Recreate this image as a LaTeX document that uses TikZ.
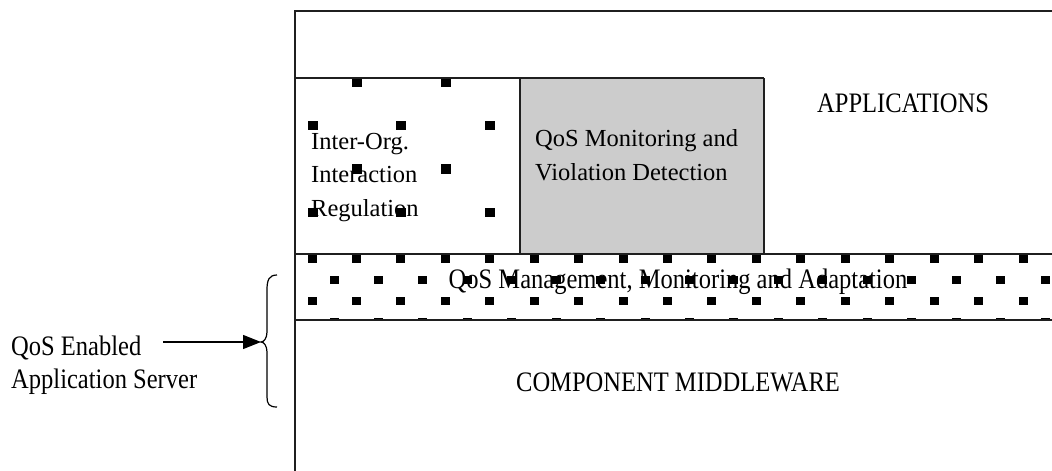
\documentclass[tikz,border=0pt]{standalone}
\usepackage{fontspec}
\setmainfont{Liberation Serif}
\newfontfamily\tallfont{Liberation Serif}[FakeStretch=0.87]
\usetikzlibrary{arrows.meta}
\definecolor{boxgray}{RGB}{204,204,204}
\begin{document}
\begin{tikzpicture}[x=1pt,y=-1pt,
  txt/.style={inner sep=0pt, font=\fontsize{24.5}{33.5}\selectfont, align=left},
  talltxt/.style={inner sep=0pt, font=\tallfont\fontsize{28.2}{33}\selectfont, align=left},
  frameline/.style={line width=1.5pt, black!88},
  thinline/.style={line width=1.2pt, black!88},
  bigdot/.style={fill=black},
  conn/.style={line width=1.2pt, black}]
\useasboundingbox (0,0) rectangle (1052,471);
% grey monitoring box
\fill[boxgray] (520,78) rectangle (764,254);
% dots of the regulation box
\foreach \y/\xs in {82/{357,445.5}, 125.5/{312.5,401,489.5}, 169/{357,445.5}, 212.5/{312.5,401,489.5}}{
  \foreach \x in \xs {
    \fill[bigdot] (\x-5,\y-4.75) rectangle (\x+5,\y+4.75);
  }
}
% dots of the management band
\begin{scope}
  \clip (295,254) rectangle (1052,320);
  \foreach \y/\xo in {259/312, 280/334, 301/312, 322/334}{
    \foreach \j in {0,...,16}{
      \pgfmathsetmacro\xc{\xo+44.44*\j}
      \fill[bigdot] (\xc-4.5,\y-4.25) rectangle (\xc+4.5,\y+4.25);
    }
  }
\end{scope}
% frame lines
\draw[frameline] (295,471) -- (295,11) -- (1052,11);
\draw[frameline] (295,78) -- (764,78);
\draw[thinline] (520,78) -- (520,254);
\draw[thinline] (764,78) -- (764,254);
\draw[frameline] (295,254) -- (1052,254);
\draw[frameline] (295,320) -- (1052,320);
% texts (multi-line nodes are anchored at their last baseline)
\node[txt, anchor=base west] (reg) at (311,216) {Inter-Org.\\Interaction\\Regulation};
\node[txt, anchor=base west] (mon) at (535,180) {QoS Monitoring and\\Violation Detection};
\node[talltxt, anchor=base west] (apps) at (817,112) {APPLICATIONS};
\node[talltxt, anchor=base] (qosm) at (678,288) {QoS Management, Monitoring and Adaptation};
\node[talltxt, anchor=base] (mid) at (678,391) {COMPONENT MIDDLEWARE};
\node[talltxt, anchor=base west] (srv) at (11,388) {QoS Enabled\\Application Server};
% arrow and brace
\coordinate (arrowstart) at (163,342);
\coordinate (bracetip) at (261,342);
\draw[conn, -{Triangle[length=18pt,width=14pt]}] (arrowstart) -- (bracetip);
\draw[conn] (277,275) .. controls (269,275) and (267,280) .. (267,290) -- (267,332)
  .. controls (267,338) and (264,342) .. (bracetip)
  .. controls (264,342) and (267,346) .. (267,352) -- (267,397)
  .. controls (267,404) and (269,407) .. (277,407);
\end{tikzpicture}
\end{document}
